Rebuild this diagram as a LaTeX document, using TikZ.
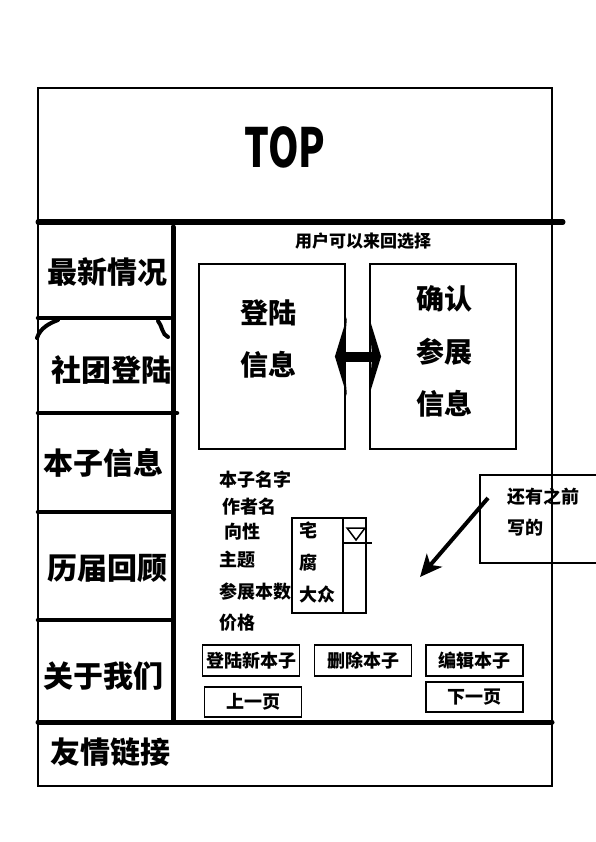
\documentclass[tikz,border=0pt]{standalone}
\usepackage{fontspec}
\setmainfont{Noto Sans CJK SC}
\usetikzlibrary{arrows.meta, positioning, calc}
\tikzset{
  every picture/.style={line width=2pt},
  thickline/.style={line width=5pt, line cap=round},
  sideline/.style={line width=4.5pt, line cap=round},
  box/.style={draw, line width=1.8pt, inner sep=0pt},
  menu/.style={font=\fontsize{30}{30}\selectfont\bfseries, inner sep=0pt},
  big/.style={font=\fontsize{28}{28}\selectfont\bfseries, inner sep=0pt},
  field/.style={font=\fontsize{18}{18}\selectfont\bfseries, anchor=west, inner sep=0pt},
  btn/.style={draw, line width=1.8pt, minimum width=97pt, minimum height=31pt, inner sep=0pt, font=\fontsize{18}{18}\selectfont\bfseries},
  arrow/.style={-{Stealth[length=22pt, width=20pt, inset=6pt]}, line width=4pt},
  dblarrow/.style={{Stealth[length=12pt, width=78pt, inset=3pt]}-{Stealth[length=12pt, width=78pt, inset=3pt]}, line width=10pt, shorten <=-11pt, shorten >=-12pt},
}
\begin{document}
\begin{tikzpicture}[x=1pt, y=-1pt]
  \useasboundingbox (0,0) rectangle (595,842);
  % page frame and header
  \draw (38,88) rectangle (552,786);
  \node[font=\fontsize{54}{54}\selectfont\bfseries] (top) at (285,147) {\scalebox{0.72}[1]{TOP}};
  \draw[thickline] (38,222) -- (563,222);
  \draw[thickline] (38,722) -- (552,722);
  \draw[thickline] (173,227) -- (173,720);
  \foreach \y/\e in {318/170, 413/177, 512/172, 620/172}
    \draw[sideline] (38,\y) -- (\e,\y);
  \draw[line width=4pt, line cap=round] (37,338) .. controls (40,328) and (50,323) .. (58,320);
  \draw[line width=4pt, line cap=round] (158,321) .. controls (162,325) and (162,335) .. (168,337);
  % left menu
  \node[menu] (news) at (107,272) {最新情况};
  \node[menu] (club) at (111,370) {社团登陆};
  \node[menu] (book) at (103,463) {本子信息};
  \node[menu] (past) at (107,568) {历届回顾};
  \node[menu] (about) at (103,676) {关于我们};
  \node[menu, anchor=west] (links) at (49,752) {友情链接};
  % two panels
  \node[font=\fontsize{17}{17}\selectfont\bfseries] (hint) at (363,241) {用户可以来回选择};
  \node[box, minimum width=146pt, minimum height=185pt] (login) at (272,356.5) {};
  \node[box, minimum width=146pt, minimum height=185pt] (confirm) at (443,356.5) {};
  \node[big] (logina) at (268,313) {登陆};
  \node[big] (loginb) at (268,365) {信息};
  \node[big] (confa) at (444,299) {确认};
  \node[big] (confb) at (444,352) {参展};
  \node[big] (confc) at (444,404) {信息};
  \draw[dblarrow] (login.east) -- (confirm.west);
  % form fields
  \node[field] (fname) at (218,480) {本子名字};
  \node[field] (fauthor) at (221,507) {作者名};
  \node[field] (ftaste) at (223,532) {向性};
  \node[field] (ftheme) at (218,560) {主题};
  \node[field] (fcount) at (218,592) {参展本数};
  \node[field] (fprice) at (218,623) {价格};
  % dropdown
  \node[box, minimum width=74pt, minimum height=95pt] (drop) at (329,565.5) {};
  \draw[line width=1.5pt] (343,518) -- (343,613);
  \draw[line width=1.5pt] (343,543) -- (372,543);
  \draw[line width=1.5pt] (347,528) -- (365,528) -- (356,540) -- cycle;
  \node[field] (opta) at (298,530) {宅};
  \node[field] (optb) at (298,563) {腐};
  \node[field] (optc) at (298,595) {大众};
  % note
  \draw (596,475) -- (480,475) -- (480,563) -- (596,563);
  \node[field] (notea) at (506,497) {还有之前};
  \node[field] (noteb) at (506,528) {写的};
  \coordinate (aim) at (420,577);
  \draw[arrow] ($(notea.west)+(-18,1)$) -- (aim);
  % buttons
  \node[btn] (add) at (251,660.5) {登陆新本子};
  \node[btn] (del) at (363,660.5) {删除本子};
  \node[btn] (edit) at (474.5,660.5) {编辑本子};
  \node[btn, minimum height=30pt] (prev) at (253,702) {上一页};
  \node[btn, minimum height=30pt] (next) at (474.5,697) {下一页};
\end{tikzpicture}
\end{document}
